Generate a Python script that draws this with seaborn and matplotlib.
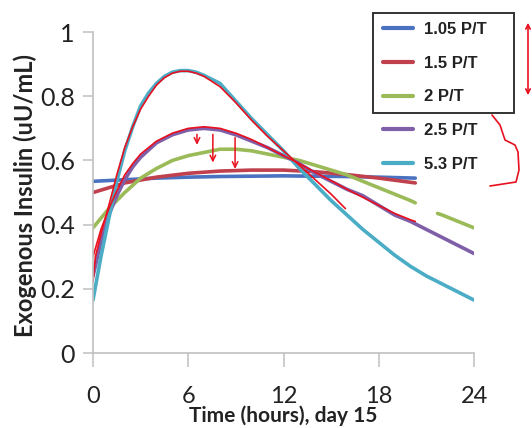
import numpy as np
import pandas as pd
import seaborn as sns
import matplotlib.pyplot as plt
from matplotlib.patches import Rectangle, FancyArrowPatch
from matplotlib.lines import Line2D

# dose levels (legend labels)
doses = ["1.05 P/T", "1.5 P/T", "2 P/T", "2.5 P/T", "5.3 P/T"]
colores = ["#4a72c0", "#c0404d", "#9bbb59", "#7f5fa8", "#4bacc6"]

horas_planas = [0, 2, 4, 6, 8, 10, 12, 14, 16, 18, 20.3]
ins_105 = [0.535, 0.54, 0.545, 0.548, 0.55, 0.551, 0.552, 0.551, 0.55, 0.548, 0.545]
ins_15 = [0.50, 0.53, 0.548, 0.56, 0.567, 0.57, 0.57, 0.565, 0.556, 0.545, 0.53]

# 2 P/T has a gap between ~20.3 h and ~21.7 h
horas_2a = list(range(21)) + [20.3]
ins_2a = [0.39, 0.45, 0.50, 0.545, 0.575, 0.60, 0.615, 0.625, 0.635, 0.635, 0.63,
          0.62, 0.61, 0.60, 0.585, 0.57, 0.555, 0.535, 0.515, 0.495, 0.475, 0.468]
horas_2b = [21.7, 22, 23, 24]
ins_2b = [0.435, 0.43, 0.41, 0.39]

horas_25 = [0, 0.5, 1, 1.5, 2, 2.5, 3, 4, 5, 6, 7, 8, 9, 10, 11, 12, 13, 14, 15, 16,
            17, 18, 19, 20, 21, 22, 23, 24]
ins_25 = [0.24, 0.345, 0.43, 0.49, 0.54, 0.58, 0.61, 0.655, 0.68, 0.695, 0.70, 0.695,
          0.68, 0.66, 0.64, 0.615, 0.59, 0.56, 0.535, 0.51, 0.49, 0.46, 0.43, 0.41,
          0.385, 0.36, 0.335, 0.31]

horas_53 = [0, 0.5, 1, 1.5, 2, 2.5, 3, 3.5, 4, 4.5, 5, 5.5, 6, 6.5, 7, 8, 9, 10, 11,
            12, 13, 14, 15, 16, 17, 18, 19, 20, 21, 22, 23, 24]
ins_53 = [0.165, 0.30, 0.42, 0.535, 0.63, 0.705, 0.77, 0.81, 0.84, 0.862, 0.875, 0.88,
          0.88, 0.875, 0.865, 0.84, 0.785, 0.73, 0.68, 0.63, 0.575, 0.525, 0.475, 0.43,
          0.385, 0.345, 0.305, 0.27, 0.24, 0.215, 0.19, 0.165]

# hand drawn red curves
horas_rojo1 = [0, 0.15, 0.5, 1, 1.5, 2, 2.5, 3, 3.5, 4, 4.5, 5, 5.5, 6, 6.5, 7, 8, 9,
               10, 11, 12, 13, 14, 15, 15.9]
rojo1 = [0.22, 0.30, 0.37, 0.46, 0.555, 0.64, 0.705, 0.76, 0.80, 0.835, 0.858, 0.872,
         0.878, 0.878, 0.872, 0.862, 0.83, 0.78, 0.725, 0.675, 0.63, 0.585, 0.54,
         0.495, 0.45]
horas_rojo2 = [0, 0.5, 1, 1.5, 2, 2.5, 3, 4, 5, 6, 7, 8, 9, 10, 11, 12, 13, 14, 15, 16,
               17, 18, 19, 20, 20.3]
rojo2 = [0.30, 0.385, 0.45, 0.505, 0.555, 0.59, 0.62, 0.66, 0.685, 0.70, 0.705, 0.70,
         0.685, 0.665, 0.64, 0.615, 0.59, 0.563, 0.537, 0.51, 0.485, 0.46, 0.435,
         0.415, 0.41]

# hand drawn down arrows: hour, from, to
flechas_h = [6.55, 7.55, 8.95]
flechas_ini = [0.69, 0.69, 0.68]
flechas_fin = [0.64, 0.585, 0.565]

filas = []
for h, v in zip(horas_planas, ins_105):
    filas.append((doses[0], "a", h, v))
for h, v in zip(horas_planas, ins_15):
    filas.append((doses[1], "a", h, v))
for h, v in zip(horas_2a, ins_2a):
    filas.append((doses[2], "a", h, v))
for h, v in zip(horas_2b, ins_2b):
    filas.append((doses[2], "b", h, v))
for h, v in zip(horas_25, ins_25):
    filas.append((doses[3], "a", h, v))
for h, v in zip(horas_53, ins_53):
    filas.append((doses[4], "a", h, v))
df = pd.DataFrame(filas, columns=["dose", "seg", "hora", "insulina"])

sns.set_style("white")
plt.rcParams['font.family'] = ['Lato', 'DejaVu Sans']

fig = plt.figure(figsize=(5.32, 4.28), dpi=100)
ax = fig.add_axes([0.1748, 0.1752, 0.7162, 0.7498])

sns.lineplot(data=df, x="hora", y="insulina", hue="dose", units="seg",
             estimator=None, sort=False, palette=colores, hue_order=doses,
             linewidth=2.6, ax=ax)

rojo = "#e8101e"
sns.lineplot(x=horas_rojo1, y=rojo1, color=rojo, linewidth=1.2, sort=False,
             estimator=None, ax=ax)
sns.lineplot(x=horas_rojo2, y=rojo2, color=rojo, linewidth=1.2, sort=False,
             estimator=None, ax=ax)
for h, a, b in zip(flechas_h, flechas_ini, flechas_fin):
    ax.annotate("", xy=(h, b), xytext=(h, a),
                arrowprops=dict(arrowstyle="->", color=rojo, lw=1.1))

ax.set_xlim(0, 24)
ax.set_ylim(0, 1)
ax.set_xticks([0, 6, 12, 18, 24])
ax.set_yticks([0, 0.2, 0.4, 0.6, 0.8, 1])
ax.set_yticklabels(["0", "0.2", "0.4", "0.6", "0.8", "1"])
ax.set_xticklabels(["0", "6", "12", "18", "24"])

for s in ["top", "right"]:
    ax.spines[s].set_visible(False)
for s in ["left", "bottom"]:
    ax.spines[s].set_color("#c0c0c0")
    ax.spines[s].set_linewidth(1.2)
ax.tick_params(axis="y", length=7, width=1.1, color="#c0c0c0", labelsize=18,
               pad=6, labelcolor="#222222", left=True)
ax.tick_params(axis="x", length=10, width=1.1, color="#c0c0c0", labelsize=17,
               pad=14, labelcolor="#222222", bottom=True)

ax.set_xlabel("Time (hours), day 15", fontsize=15, fontweight="bold", color="#222222")
ax.set_ylabel("Exogenous Insulin (uU/mL)", fontsize=17, fontweight="bold", color="#222222")
ax.xaxis.set_label_coords(0.5, -0.162)
ax.yaxis.set_label_coords(-0.147, 0.49)

leg = ax.legend(loc="upper left", bbox_to_anchor=(383 / 532, 1 - 22 / 428),
                bbox_transform=fig.transFigure, frameon=False,
                borderpad=0, borderaxespad=0, handlelength=1.8, handletextpad=0.65,
                labelspacing=1.12, prop={"weight": "bold", "size": 12,
                                         "family": ["Liberation Sans", "DejaVu Sans"]})
for t in leg.get_texts():
    t.set_color("#222222")
for l in leg.get_lines():
    l.set_linewidth(3)

fig.add_artist(Rectangle((373 / 532, 1 - 113 / 428), 141 / 532, 100 / 428,
                         transform=fig.transFigure, fill=False, ec="#333333", lw=1.4))
fig.add_artist(FancyArrowPatch((528 / 532, 1 - 98 / 428), (528 / 532, 1 - 20 / 428),
                               transform=fig.transFigure, arrowstyle="<->",
                               mutation_scale=8, color=rojo, lw=1.2))
bx = [492, 500, 505, 515, 518, 519, 516, 490]
by = [115, 125, 140, 145, 152, 170, 182, 186]
fig.add_artist(Line2D([x / 532 for x in bx], [1 - y / 428 for y in by],
                      transform=fig.transFigure, color=rojo, lw=1.2))

fig.savefig("out.png", dpi=100)
